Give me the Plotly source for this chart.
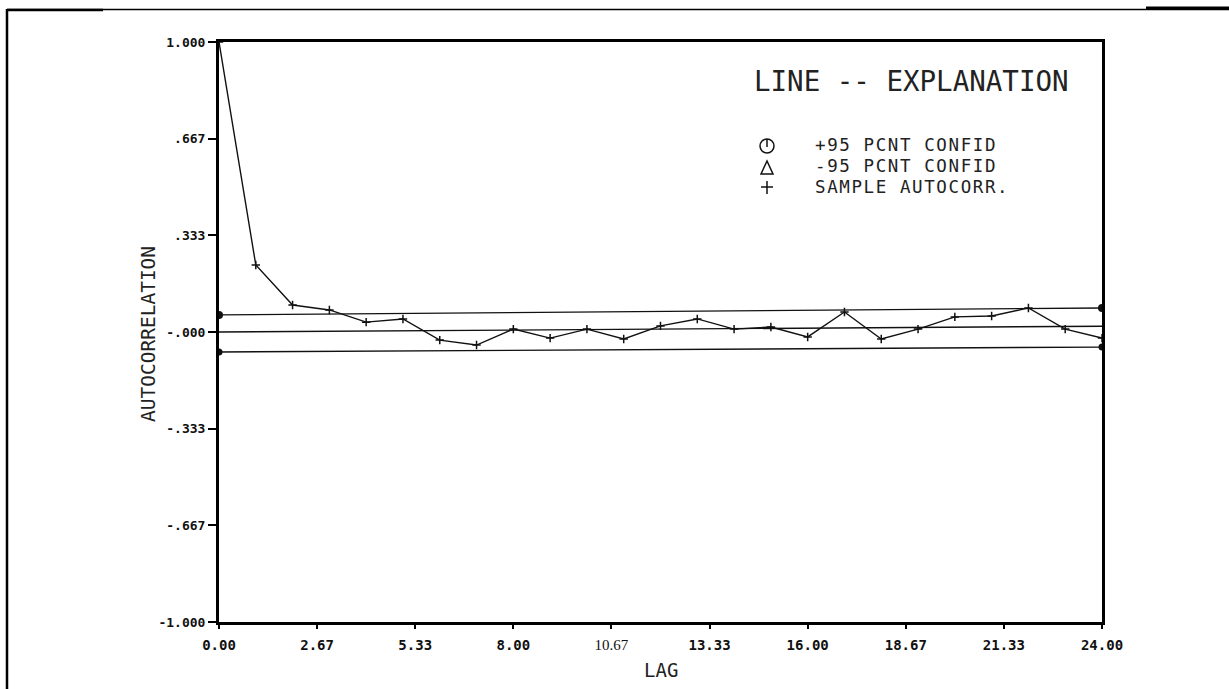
import plotly.graph_objects as go

# Sample autocorrelation by lag
lags = list(range(25))
acf = [1.000, 0.231, 0.093, 0.076, 0.034, 0.045, -0.028, -0.045, 0.010, -0.021,
       0.010, -0.024, 0.021, 0.045, 0.010, 0.017, -0.017, 0.069, -0.024, 0.010,
       0.052, 0.055, 0.083, 0.010, -0.021]

# Confidence band and reference line endpoints (lag 0 and lag 24)
band_lags = [0, 24]
upper_conf = [0.059, 0.083]
lower_conf = [-0.069, -0.052]
mid_line = [0.000, 0.020]

x_tickvals = [0, 8/3, 16/3, 8, 32/3, 40/3, 16, 56/3, 64/3, 24]
x_ticktext = ["0.00", "2.67", "5.33", "8.00",
              '<span style="font-family:Liberation Serif;font-weight:normal;font-size:15px">10.67</span>',
              "13.33", "16.00", "18.67", "21.33", "24.00"]
y_tickvals = [1, 2/3, 1/3, 0, -1/3, -2/3, -1]
y_ticktext = ["1.000", ".667", ".333", "-.000", "-.333", "-.667", "-1.000"]

legend_labels = ["+95 PCNT CONFID", "-95 PCNT CONFID", "SAMPLE AUTOCORR."]

W, H = 1229, 689
L, R, T, B = 219, 1102, 42, 622


def px(x):
    return (x - L) / (R - L)


def py(y):
    return (B - y) / (B - T)


def spaced(txt, ls):
    return f'<span style="letter-spacing:{ls}px">{txt}</span>'


LINE = "#111111"
MONO = "DejaVu Sans Mono"

fig = go.Figure()

fig.add_trace(go.Scatter(x=band_lags, y=mid_line, mode="lines",
                         line=dict(color=LINE, width=1.4), hoverinfo="skip"))
fig.add_trace(go.Scatter(x=band_lags, y=upper_conf, mode="lines+markers",
                         line=dict(color=LINE, width=1.4),
                         marker=dict(symbol="circle", size=8, color=LINE)))
fig.add_trace(go.Scatter(x=band_lags, y=lower_conf, mode="lines+markers",
                         line=dict(color=LINE, width=1.4),
                         marker=dict(symbol="circle", size=7, color=LINE)))
fig.add_trace(go.Scatter(x=lags, y=acf, mode="lines+markers",
                         line=dict(color=LINE, width=1.4),
                         marker=dict(symbol="cross-thin", size=6,
                                     line=dict(color=LINE, width=1.5))))

fig.update_xaxes(range=[0, 24], tickvals=x_tickvals, ticktext=x_ticktext,
                 showgrid=False, zeroline=False, showline=True, mirror=True,
                 linecolor="black", linewidth=3, ticks="outside", ticklen=4,
                 tickwidth=2, tickcolor="black", ticklabelstandoff=4,
                 tickfont=dict(family=MONO, size=14, color="#111111", weight="bold"))
fig.update_yaxes(range=[-1, 1], tickvals=y_tickvals, ticktext=y_ticktext,
                 showgrid=False, zeroline=False, showline=True, mirror=True,
                 linecolor="black", linewidth=3, ticks="outside", ticklen=8,
                 tickwidth=2, tickcolor="black",
                 tickfont=dict(family=MONO, size=13, color="#111111", weight="bold"))

shapes = [
    # page frame
    dict(type="line", x0=px(7), x1=px(7), y0=py(9), y1=py(700),
         line=dict(color="black", width=2.5)),
    dict(type="line", x0=px(7), x1=px(1229), y0=py(9.5), y1=py(9.5),
         line=dict(color="black", width=1.5)),
    dict(type="line", x0=px(7), x1=px(103), y0=py(10), y1=py(10),
         line=dict(color="black", width=2.5)),
    dict(type="line", x0=px(1146), x1=px(1229), y0=py(8), y1=py(8),
         line=dict(color="black", width=3)),
    # legend glyphs
    dict(type="circle", x0=px(760), x1=px(774), y0=py(139), y1=py(153),
         line=dict(color=LINE, width=1.5)),
    dict(type="line", x0=px(767), x1=px(767), y0=py(139), y1=py(147),
         line=dict(color=LINE, width=1.5)),
    dict(type="path",
         path=f"M {px(761)} {py(174)} L {px(773)} {py(174)} L {px(767)} {py(161)} Z",
         line=dict(color=LINE, width=1.5)),
    dict(type="line", x0=px(761), x1=px(773), y0=py(187), y1=py(187),
         line=dict(color=LINE, width=1.5)),
    dict(type="line", x0=px(767), x1=px(767), y0=py(181), y1=py(194),
         line=dict(color=LINE, width=1.5)),
]
for s in shapes:
    s.update(xref="paper", yref="paper")

annotations = [
    dict(text="LINE -- EXPLANATION", x=px(752), y=py(81), xanchor="left",
         yanchor="middle", font=dict(family=MONO, size=27.5, color="#222")),
    dict(text="LAG", x=0.5, y=py(670), xanchor="center", yanchor="middle",
         font=dict(family=MONO, size=19, color="#222")),
    dict(text="AUTOCORRELATION", x=px(148), y=py(334), xanchor="center",
         yanchor="middle", textangle=-90,
         font=dict(family=MONO, size=19.5, color="#222")),
]
for label, ypix in zip(legend_labels, [145, 166, 187]):
    annotations.append(dict(text=spaced(label, 1.6), x=px(814), y=py(ypix),
                            xanchor="left", yanchor="middle", borderpad=0,
                            font=dict(family=MONO, size=17.5, color="#222")))
for a in annotations:
    a.update(xref="paper", yref="paper", showarrow=False)

fig.update_layout(width=W, height=H, plot_bgcolor="white", paper_bgcolor="white",
                  margin=dict(l=L, r=W - R, t=T, b=H - B), showlegend=False,
                  shapes=shapes, annotations=annotations)

fig.write_html("out.html")
